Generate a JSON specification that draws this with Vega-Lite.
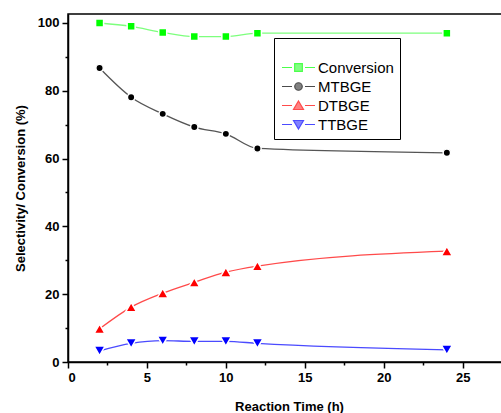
{
  "$schema": "https://vega.github.io/schema/vega-lite/v6.json",
  "width": 442,
  "height": 348,
  "autosize": "none",
  "padding": {"left": 68, "top": 14, "right": 0, "bottom": 51},
  "background": "white",
  "config": {
    "font": "Liberation Sans",
    "view": {"stroke": "#000000", "strokeWidth": 1.5},
    "legend": {
      "strokeColor": "#000000",
      "fillColor": "white",
      "padding": 6,
      "titleFontSize": 10,
      "titlePadding": 6,
      "symbolSize": 100,
      "symbolStrokeWidth": 1.2,
      "labelFont": "Liberation Sans",
      "labelFontSize": 15,
      "labelColor": "#000000",
      "labelOffset": 23,
      "rowPadding": 3
    }
  },
  "data": {
    "values": [
      {"time": 2, "series": "Conversion", "value": 100},
      {"time": 4, "series": "Conversion", "value": 99},
      {"time": 6, "series": "Conversion", "value": 97.2},
      {"time": 8, "series": "Conversion", "value": 96},
      {"time": 10, "series": "Conversion", "value": 96},
      {"time": 12, "series": "Conversion", "value": 97},
      {"time": 24, "series": "Conversion", "value": 97},
      {"time": 2, "series": "MTBGE", "value": 86.7},
      {"time": 4, "series": "MTBGE", "value": 78.1},
      {"time": 6, "series": "MTBGE", "value": 73.2},
      {"time": 8, "series": "MTBGE", "value": 69.3},
      {"time": 10, "series": "MTBGE", "value": 67.3},
      {"time": 12, "series": "MTBGE", "value": 63},
      {"time": 24, "series": "MTBGE", "value": 61.7},
      {"time": 2, "series": "DTBGE", "value": 9.8},
      {"time": 4, "series": "DTBGE", "value": 16.2},
      {"time": 6, "series": "DTBGE", "value": 20.3},
      {"time": 8, "series": "DTBGE", "value": 23.5},
      {"time": 10, "series": "DTBGE", "value": 26.5},
      {"time": 12, "series": "DTBGE", "value": 28.3},
      {"time": 24, "series": "DTBGE", "value": 32.7},
      {"time": 2, "series": "TTBGE", "value": 3.3},
      {"time": 4, "series": "TTBGE", "value": 5.5},
      {"time": 6, "series": "TTBGE", "value": 6.3},
      {"time": 8, "series": "TTBGE", "value": 6.1},
      {"time": 10, "series": "TTBGE", "value": 6.1},
      {"time": 12, "series": "TTBGE", "value": 5.5},
      {"time": 24, "series": "TTBGE", "value": 3.6}
    ]
  },
  "encoding": {
    "x": {
      "field": "time", "type": "quantitative",
      "scale": {"domain": [0, 28], "nice": false},
      "axis": {
        "orient": "bottom",
        "values": [0, 2.5, 5, 7.5, 10, 12.5, 15, 17.5, 20, 22.5, 25, 27.5],
        "labelExpr": "datum.value % 5 === 0 ? datum.label : ''",
        "grid": false,
        "domainColor": "#000000", "domainWidth": 1.5,
        "tickColor": "#000000", "tickWidth": 1.5,
        "tickSize": {"condition": {"test": "datum.value % 5 === 0", "value": 6}, "value": 3},
        "labelFont": "Liberation Sans", "labelFontSize": 13, "labelFontWeight": "bold",
        "labelColor": "#000000", "labelPadding": 3,
        "title": "Reaction Time (h)",
        "titleFont": "Liberation Sans", "titleFontSize": 13, "titleFontWeight": "bold",
        "titleColor": "#000000", "titlePadding": 16
      }
    },
    "y": {
      "field": "value", "type": "quantitative",
      "scale": {"domain": [0, 102.65], "nice": false},
      "axis": {
        "orient": "left",
        "values": [0, 10, 20, 30, 40, 50, 60, 70, 80, 90, 100],
        "labelExpr": "datum.value % 20 === 0 ? datum.label : ''",
        "grid": false,
        "domainColor": "#000000", "domainWidth": 1.5,
        "tickColor": "#000000", "tickWidth": 1.5,
        "tickSize": {"condition": {"test": "datum.value % 20 === 0", "value": 6}, "value": 3},
        "labelFont": "Liberation Sans", "labelFontSize": 13, "labelFontWeight": "bold",
        "labelColor": "#000000", "labelPadding": 3,
        "title": "Selectivity/ Conversion (%)",
        "titleFont": "Liberation Sans", "titleFontSize": 13, "titleFontWeight": "bold",
        "titleColor": "#000000", "titlePadding": 10
      }
    }
  },
  "layer": [
    {
      "mark": {"type": "line", "interpolate": "monotone", "strokeWidth": 1.3},
      "encoding": {
        "color": {
          "field": "series", "type": "nominal",
          "scale": {
            "domain": ["MTBGE", "Conversion", "DTBGE", "TTBGE"],
            "range": ["#555555", "#7dff7d", "#ff4a4a", "#4a4aff"]
          },
          "legend": null
        },
        "detail": {"field": "series"}
      }
    },
    {
      "transform": [{"filter": "datum.series === 'Conversion'"}],
      "mark": {"type": "point", "shape": "square", "filled": true, "fill": "#00ff00", "opacity": 1, "size": 64, "stroke": "white", "strokeWidth": 1.5}
    },
    {
      "transform": [{"filter": "datum.series === 'MTBGE'"}],
      "mark": {"type": "point", "shape": "circle", "filled": true, "fill": "#000000", "opacity": 1, "size": 55, "stroke": "white", "strokeWidth": 1.5}
    },
    {
      "transform": [{"filter": "datum.series === 'DTBGE'"}],
      "mark": {"type": "point", "shape": "triangle-up", "filled": true, "fill": "#ff0000", "opacity": 1, "size": 120, "stroke": "white", "strokeWidth": 1.5}
    },
    {
      "transform": [{"filter": "datum.series === 'TTBGE'"}],
      "mark": {"type": "point", "shape": "triangle-down", "filled": true, "fill": "#0000ff", "opacity": 1, "size": 120, "stroke": "white", "strokeWidth": 1.5}
    },
    {
      "transform": [{"filter": "datum.time < 0"}],
      "mark": {"type": "point", "filled": true, "size": 100},
      "encoding": {
        "fill": {
          "field": "series", "type": "nominal", "title": " ",
          "scale": {
            "domain": ["Conversion", "MTBGE", "DTBGE", "TTBGE"],
            "range": ["#00ff00", "#000000", "#ff0000", "#0000ff"]
          },
          "legend": {"orient": "none", "legendX": 206, "legendY": 24}
        },
        "stroke": {
          "field": "series", "type": "nominal", "title": " ",
          "scale": {
            "domain": ["Conversion", "MTBGE", "DTBGE", "TTBGE"],
            "range": ["#00ff00", "#000000", "#ff0000", "#0000ff"]
          },
          "legend": {"orient": "none", "legendX": 206, "legendY": 24}
        },
        "shape": {
          "field": "series", "type": "nominal", "title": " ",
          "scale": {
            "domain": ["Conversion", "MTBGE", "DTBGE", "TTBGE"],
            "range": [
              "M-1.1,0H0.9M3.5,0H5.5M1.43,-0.77H2.97V0.77H1.43Z",
              "M-1.1,0H0.9M3.5,0H5.5M2.95,0A0.75,0.75 0 1,1 1.45,0A0.75,0.75 0 1,1 2.95,0Z",
              "M-1.1,0H0.9M3.5,0H5.5M2.2,-0.9L3.2,0.8L1.2,0.8Z",
              "M-1.1,0H0.9M3.5,0H5.5M2.2,0.9L3.2,-0.8L1.2,-0.8Z"
            ]
          },
          "legend": {"orient": "none", "legendX": 206, "legendY": 24}
        }
      }
    }
  ]
}
